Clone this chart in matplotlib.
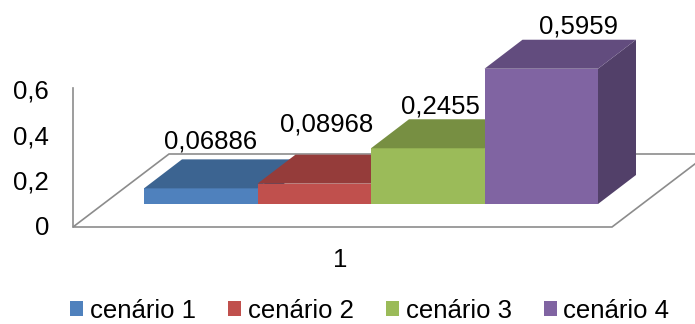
import matplotlib
matplotlib.use("Agg")
import matplotlib.pyplot as plt
from matplotlib.patches import Polygon, Patch

plt.rcParams['font.family'] = ['Liberation Sans', 'DejaVu Sans']

# data
series = ["cenário 1", "cenário 2", "cenário 3", "cenário 4"]
values = [0.06886, 0.08968, 0.2455, 0.5959]
category = "1"
yticks = [0, 0.2, 0.4, 0.6]

front_cols = ["#4F81BD", "#C0504D", "#9BBB59", "#8064A2"]
top_cols = ["#3C6491", "#953C3A", "#778F42", "#624C7E"]
side_cols = ["#33557C", "#7E3230", "#657A38", "#524069"]

W, H = 695, 324
S = 227.0          # pixels per unit on the value axis
FS = 18.5

fig = plt.figure(figsize=(W / 100, H / 100), dpi=100)
ax = fig.add_axes([0, 0, 1, 1])
ax.set_xlim(0, W)
ax.set_ylim(-(H - 227) / S, 227 / S)
ax.axis('off')

def px(p):
    # vertical pixel distance -> value units
    return p / S

# floor (oblique), depth offset 96 px right / 73 px up
fx0, fx1, fdx, fdy = 73, 612, 96, 73
floor = Polygon([(fx0, 0), (fx1, 0), (fx1 + fdx, px(fdy)), (fx0 + fdx, px(fdy))],
                closed=True, facecolor='white', edgecolor='#8C8C8C', lw=1.2, zorder=1)
ax.add_patch(floor)
ax.plot([fx0, fx0], [0, px(139)], color='#8C8C8C', lw=1.2, zorder=1)

for t in yticks:
    lab = f"{t:g}".replace('.', ',')
    ax.text(49, t - px(8), lab, ha='right', va='baseline', fontsize=FS)

# bars
x0, bw = 144, 113.5
zf = px(23)             # front face base sits a bit behind the floor front edge
ddx, ddy = 38, px(29)   # bar depth
label_dx = [10, 12, 13, 37]
label_dy = [11, 23, 6, 6]
for i, v in enumerate(values):
    xl = x0 + i * bw
    xr = xl + bw
    z = 10 + i
    ax.add_patch(Polygon([(xl, zf), (xr, zf), (xr, zf + v), (xl, zf + v)],
                         facecolor=front_cols[i], edgecolor='none', zorder=z))
    ax.add_patch(Polygon([(xl, zf + v), (xr, zf + v), (xr + ddx, zf + v + ddy),
                          (xl + ddx, zf + v + ddy)],
                         facecolor=top_cols[i], edgecolor='none', zorder=z))
    ax.add_patch(Polygon([(xr, zf), (xr + ddx, zf + ddy), (xr + ddx, zf + v + ddy),
                          (xr, zf + v)],
                         facecolor=side_cols[i], edgecolor='none', zorder=z - 0.5))
    lab = f"{v:g}".replace('.', ',')
    ax.text((xl + xr) / 2 + label_dx[i], zf + v + ddy + px(label_dy[i]), lab,
            ha='center', va='baseline', fontsize=FS, zorder=20)

ax.text(340, px(227 - 267), category, ha='center', va='baseline', fontsize=FS)

handles = [Patch(facecolor=c, edgecolor='none') for c in front_cols]
fig.legend(handles, series, loc='lower center', bbox_to_anchor=(0.532, -0.052),
           ncol=4, frameon=False, fontsize=FS, handlelength=0.52, handleheight=0.52,
           handletextpad=0.25, columnspacing=1.25, borderpad=0.2)

fig.savefig("out.png", dpi=100)
